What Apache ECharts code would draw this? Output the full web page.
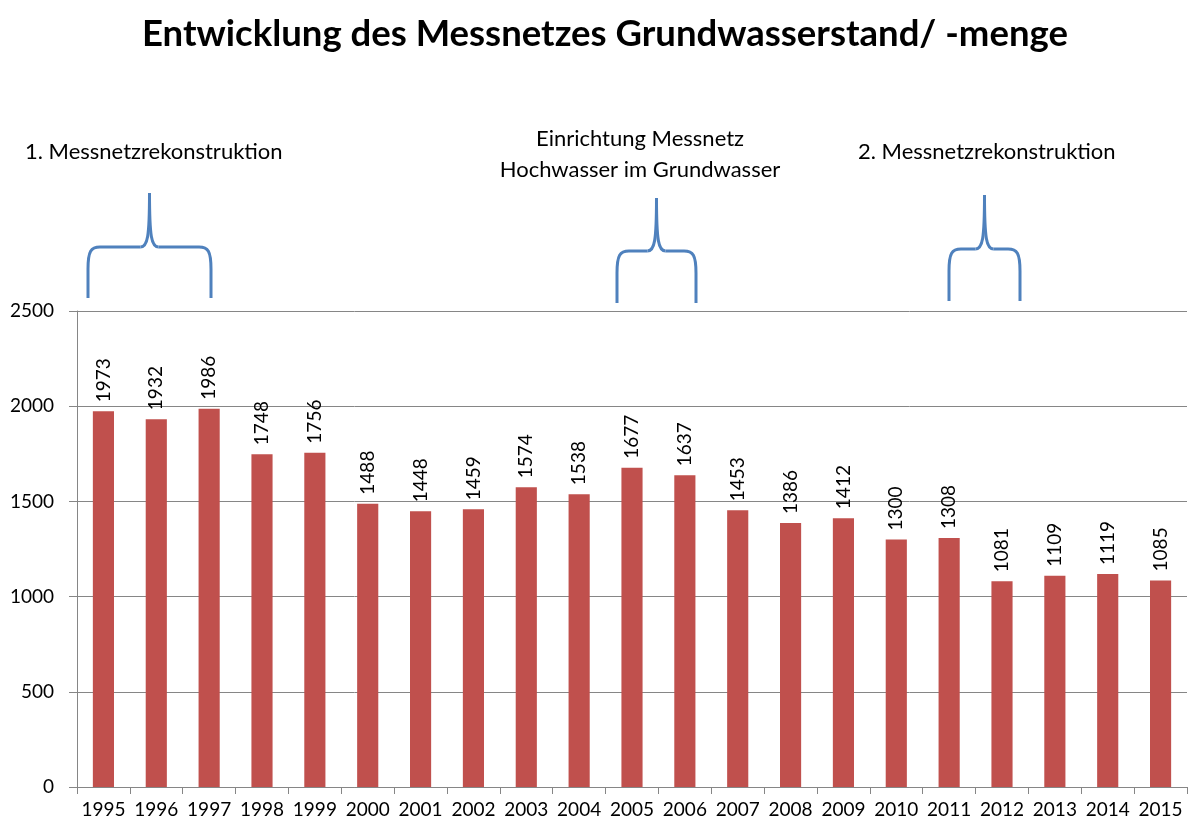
<!DOCTYPE html>
<html><head><meta charset="utf-8">
<script src="https://cdn.jsdelivr.net/npm/echarts@6/dist/echarts.min.js"></script>
<style>html,body{margin:0;padding:0;background:#fff}#c{width:1189px;height:825px}</style>
</head><body><div id="c"></div>
<script>
const years = ['1995','1996','1997','1998','1999','2000','2001','2002','2003','2004','2005','2006','2007','2008','2009','2010','2011','2012','2013','2014','2015'];
const values = [1973,1932,1986,1748,1756,1488,1448,1459,1574,1538,1677,1637,1453,1386,1412,1300,1308,1081,1109,1119,1085];
const titleText = 'Entwicklung des Messnetzes Grundwasserstand/ -menge';
const notes = ['1. Messnetzrekonstruktion', 'Einrichtung Messnetz\nHochwasser im Grundwasser', '2. Messnetzrekonstruktion'];
const FONT = 'Lato';
const chart = echarts.init(document.getElementById('c'), null, {renderer:'canvas'});
const braceStyle = {stroke:'#4F81BD', lineWidth:3, fill:null};
function brace(x1, x2, yTip, yH, yB) {
  const cx = (x1 + x2) / 2;
  const L = (a,b,c,d) => ({type:'line', shape:{x1:a,y1:b,x2:c,y2:d}, style:braceStyle});
  const B = (a,b,c1,c2,c3,c4,e,f) => ({type:'bezierCurve', shape:{x1:a,y1:b,cpx1:c1,cpy1:c2,cpx2:c3,cpy2:c4,x2:e,y2:f}, style:braceStyle});
  return [
    L(x1, yB, x1, yH + 22),
    B(x1, yH + 22, x1, yH + 4, x1 + 3, yH, x1 + 12, yH),
    L(x1 + 12, yH, cx - 9, yH),
    B(cx - 9, yH, cx - 2, yH, cx, yH - 10, cx, yTip),
    B(cx, yTip, cx, yH - 10, cx + 2, yH, cx + 9, yH),
    L(cx + 9, yH, x2 - 12, yH),
    B(x2 - 12, yH, x2 - 3, yH, x2, yH + 4, x2, yH + 22),
    L(x2, yH + 22, x2, yB)
  ];
}
chart.setOption({
  animation:false,
  textStyle:{fontFamily:FONT},
  title:{text:titleText, left:137, top:11, textStyle:{fontFamily:FONT, fontWeight:'bold', fontSize:36.5, color:'#000'}},
  grid:{left:77, right:2, top:311, bottom:38},
  xAxis:{type:'category', data:years,
    axisLine:{lineStyle:{color:'#868686', width:1}},
    axisTick:{show:true, length:7, lineStyle:{color:'#868686'}},
    axisLabel:{fontFamily:FONT, fontSize:19, color:'#000', margin:13, interval:0}},
  yAxis:{type:'value', min:0, max:2500, interval:500,
    axisLine:{show:true, lineStyle:{color:'#868686'}},
    axisTick:{show:true, length:8, lineStyle:{color:'#868686'}},
    axisLabel:{fontFamily:FONT, fontSize:19, color:'#000', margin:23, formatter:v => String(v)},
    splitLine:{lineStyle:{color:'#868686', width:1}}},
  series:[{type:'bar', data:values, barWidth:'40%',
    itemStyle:{color:'#C0504D'},
    label:{show:true, position:'top', rotate:90, distance:9, align:'left', verticalAlign:'middle',
      fontFamily:FONT, fontSize:19, color:'#000'}}],
  graphic:[
    {type:'text', x:25, y:141, style:{text:notes[0], font:'22px '+FONT, fill:'#000'}},
    {type:'text', x:640, y:123, style:{text:notes[1], font:'22px '+FONT, fill:'#000', align:'center', lineHeight:31}},
    {type:'text', x:858, y:141, style:{text:notes[2], font:'22px '+FONT, fill:'#000'}}
  ].concat(brace(88,211,193,247,298), brace(617,696,198,251,303), brace(949,1020,195,249,301))
});
</script></body></html>
